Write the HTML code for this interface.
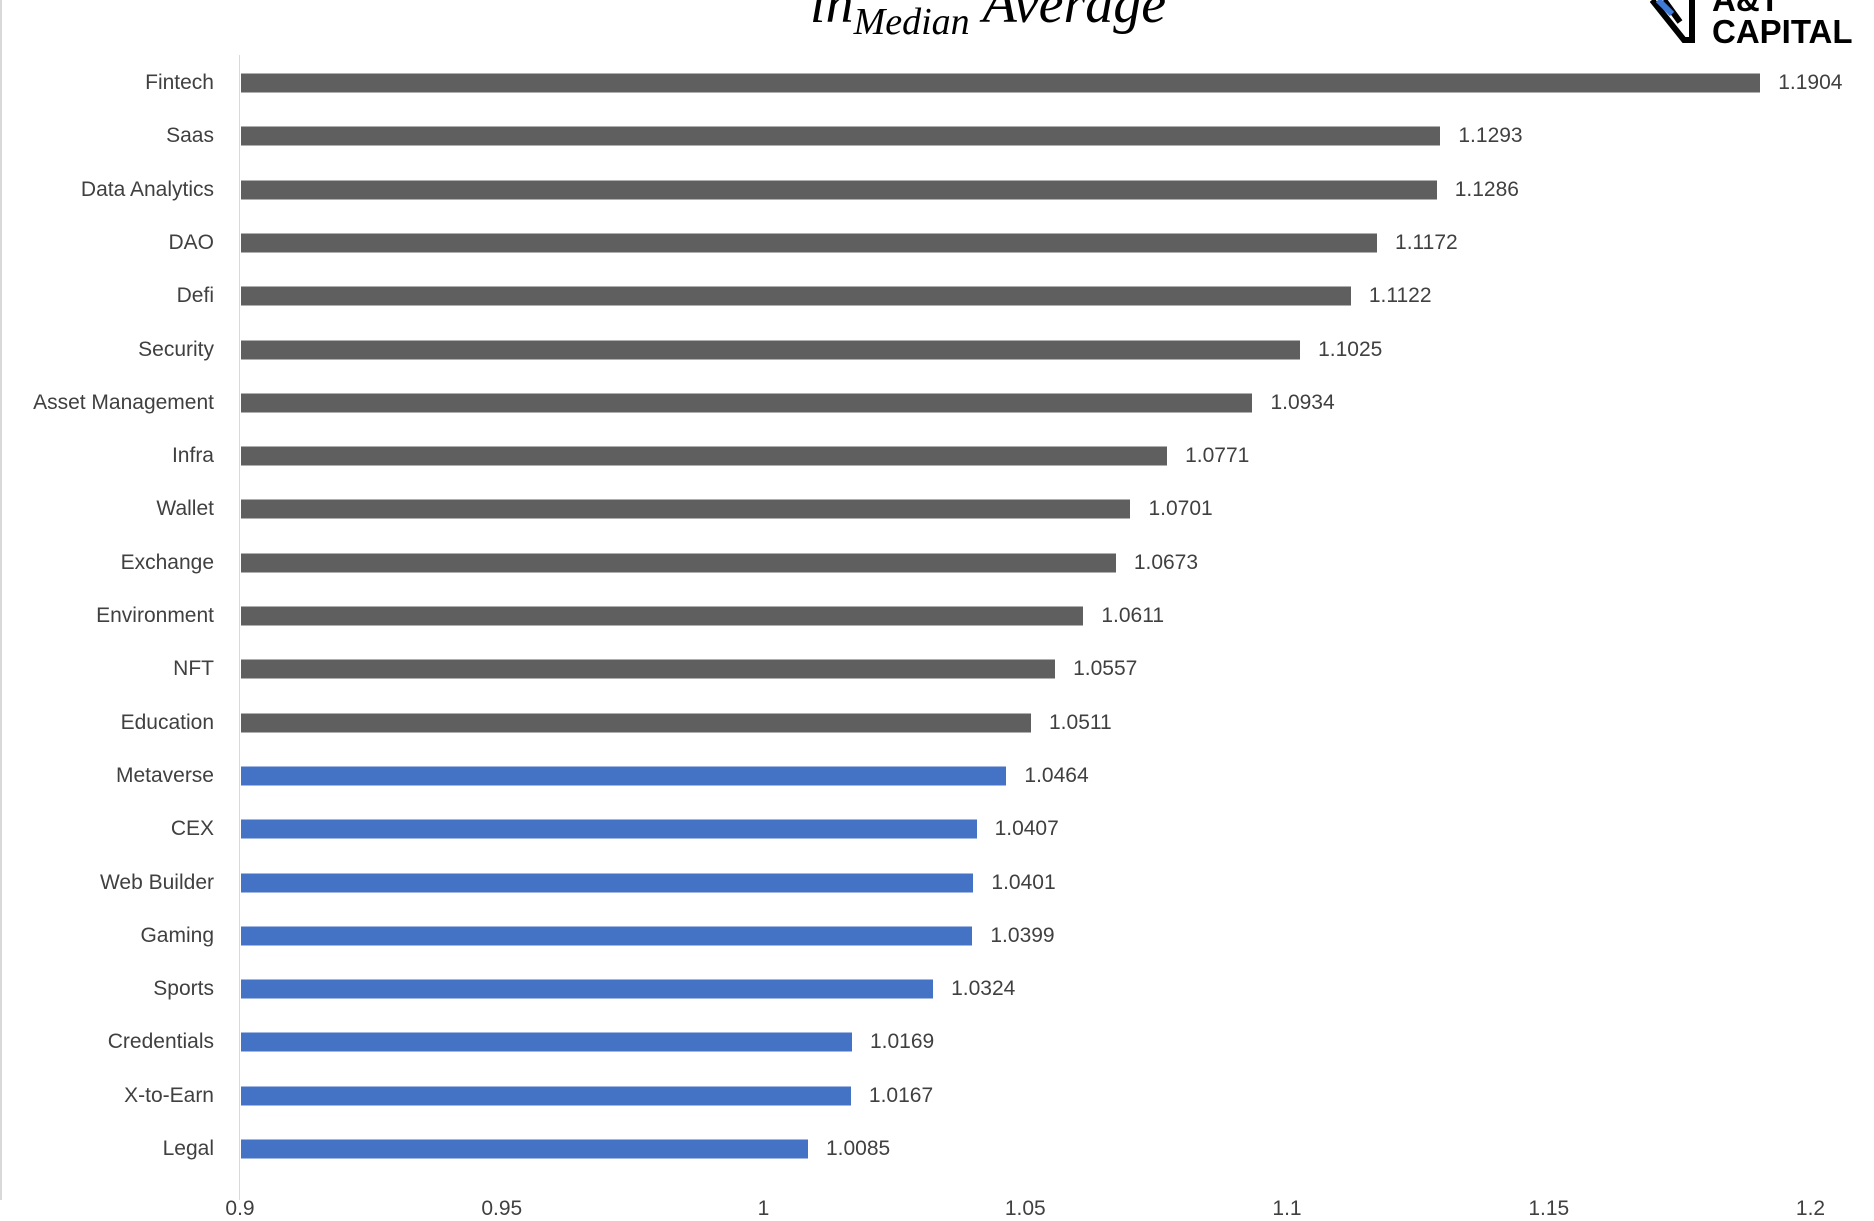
<!DOCTYPE html><html><head><style>
body{margin:0;width:1874px;height:1200px;overflow:hidden;background:#fff;font-family:"Liberation Sans",sans-serif;position:relative}
.l{position:absolute;right:1660px;font-size:21px;color:#404040;transform:translateY(-50%);white-space:nowrap}
.b{position:absolute;left:241px;height:19px;transform:translateY(-50%)}
.v{position:absolute;font-size:21px;color:#404040;transform:translateY(-50%)}
.t{position:absolute;top:1197px;font-size:21px;color:#404040;transform:translateX(-50%)}
</style></head><body>
<div style="position:absolute;left:0;top:0;width:2px;height:1200px;background:#d9d9d9"></div>
<div style="position:absolute;left:239px;top:55px;width:1px;height:1145px;background:#d9d9d9"></div>
<div style="position:absolute;left:810px;top:-28px;font-family:'Liberation Serif',serif;font-style:italic;font-size:56px;color:#000">ln<sub style="font-size:38px">Median</sub> Average</div>
<div style="position:absolute;left:1712px;top:-16px;font-weight:bold;font-size:33px;line-height:32px;color:#000">A&amp;T<br>CAPITAL</div>
<svg style="position:absolute;left:1650px;top:0" width="60" height="44"><path d="M2 0 L34 40 L42 40 L42 0 M14 0 L30 22" stroke="#000" stroke-width="6" fill="none"/><path d="M8 0 L22 14" stroke="#3f7bd6" stroke-width="6"/></svg>
<div id="c"></div>
<script>
const d=[["Fintech",1.1904],["Saas",1.1293],["Data Analytics",1.1286],["DAO",1.1172],["Defi",1.1122],["Security",1.1025],["Asset Management",1.0934],["Infra",1.0771],["Wallet",1.0701],["Exchange",1.0673],["Environment",1.0611],["NFT",1.0557],["Education",1.0511],["Metaverse",1.0464],["CEX",1.0407],["Web Builder",1.0401],["Gaming",1.0399],["Sports",1.0324],["Credentials",1.0169],["X-to-Earn",1.0167],["Legal",1.0085]];
const s=5235,x0=240;let h="";
d.forEach((r,i)=>{const y=83+i*53.3,w=(r[1]-0.9)*s;
h+=`<div class="l" style="top:${y}px">${r[0]}</div><div class="b" style="top:${y}px;width:${w-1}px;background:${i<13?'#5f5f5f':'#4472c4'}"></div><div class="v" style="top:${y}px;left:${x0+w+18}px">${r[1].toFixed(4)}</div>`;});
["0.9","0.95","1","1.05","1.1","1.15","1.2"].forEach((t,i)=>{h+=`<div class="t" style="left:${x0+i*0.05*s}px">${t}</div>`});
document.getElementById("c").innerHTML=h;
</script></body></html>
